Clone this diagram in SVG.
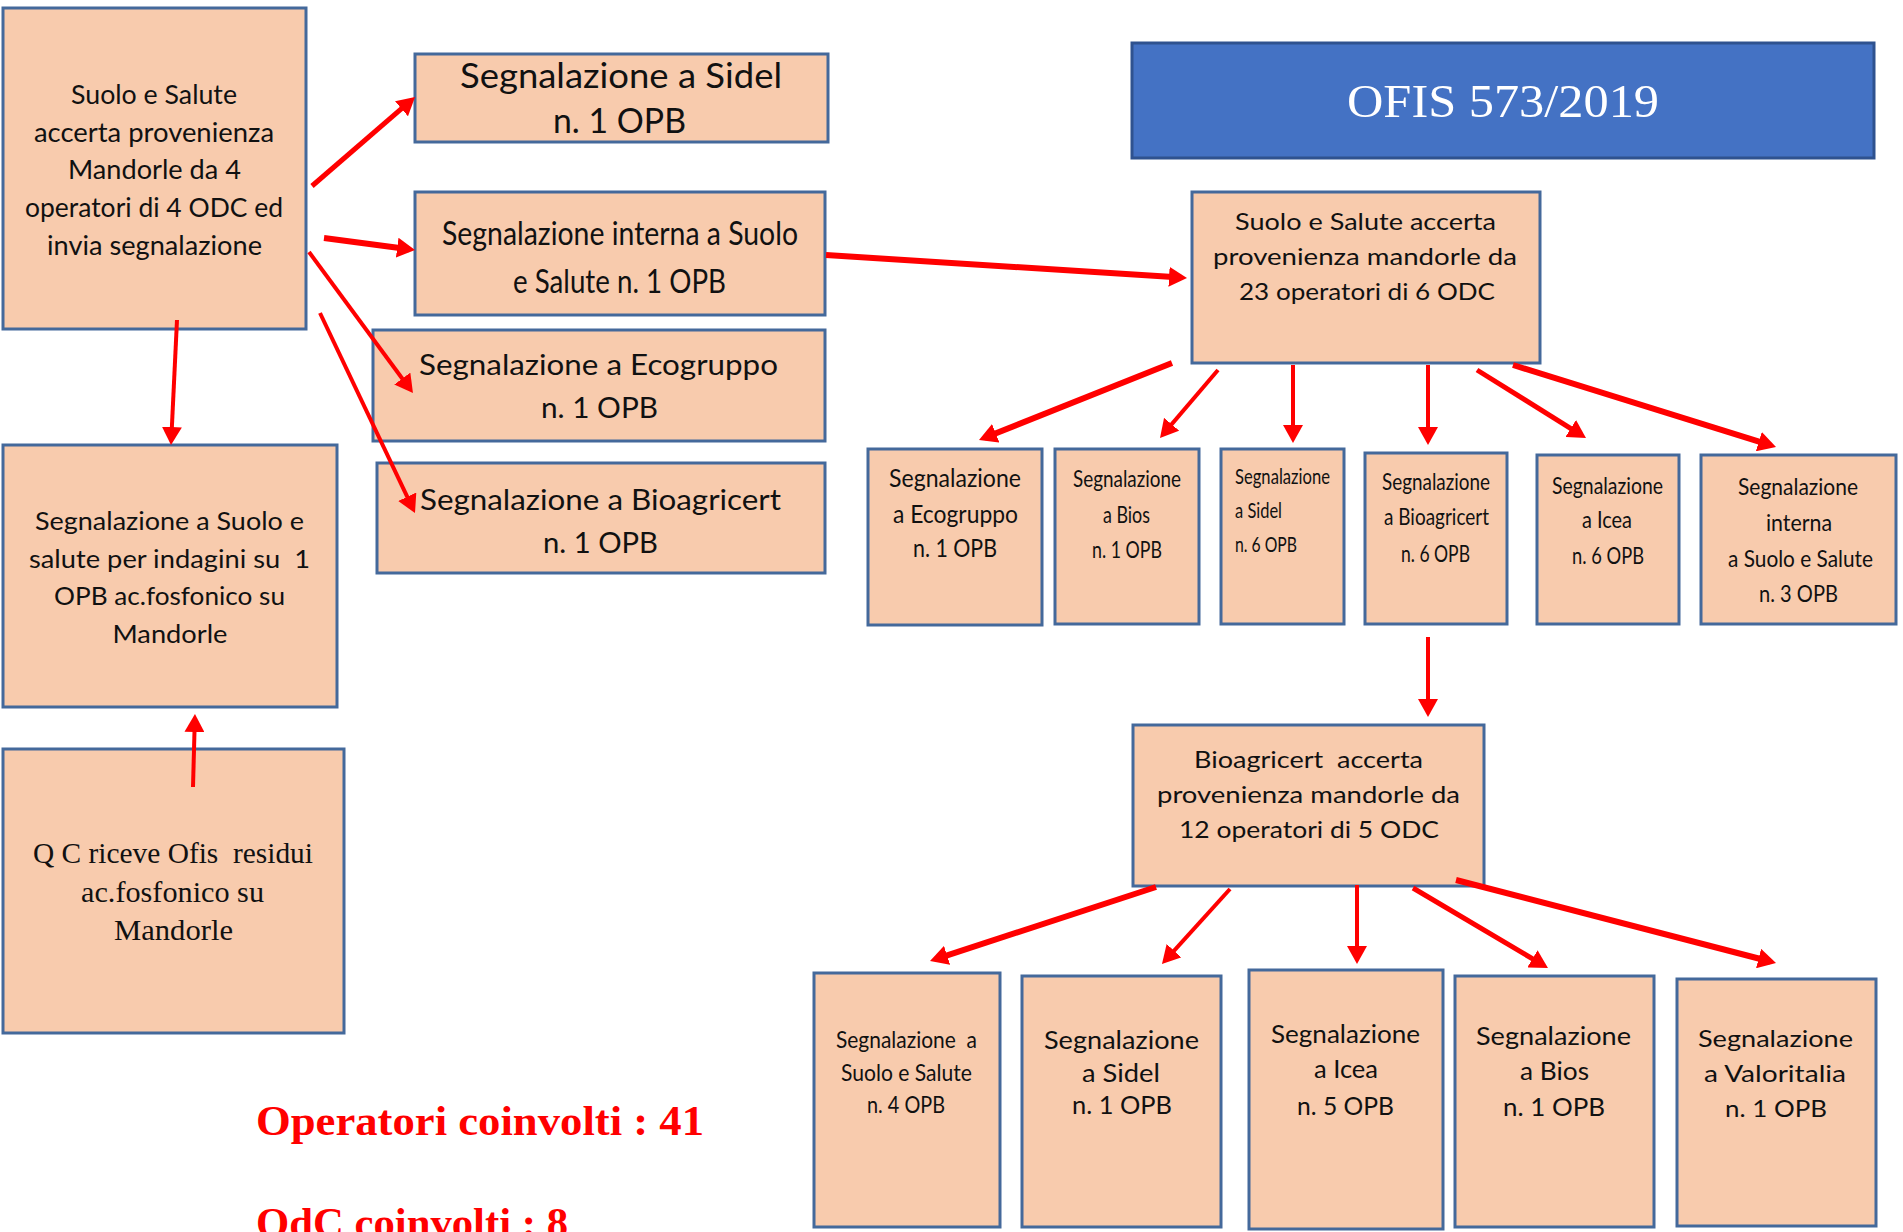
<svg xmlns="http://www.w3.org/2000/svg" width="1903" height="1232" viewBox="0 0 1903 1232">
<style>
.box{fill:#F8CBAD;stroke:#44699B;stroke-width:3}
.t{font-family:Lato,"Liberation Sans",sans-serif;fill:#111;text-anchor:middle}
.ts{font-family:"Liberation Serif",serif;fill:#111;text-anchor:middle}
.red{font-family:"Liberation Serif",serif;font-weight:bold;fill:#FF0000}
.c{fill:none;stroke:#FF0000;stroke-width:5}
.w6{stroke-width:6}
.w4{stroke-width:4}
</style>
<defs>
<marker id="ah" viewBox="0 0 18 20" markerUnits="userSpaceOnUse" markerWidth="18" markerHeight="20" refX="12" refY="10" orient="auto" preserveAspectRatio="none">
<path d="M0,0 L18,10 L0,20 z" fill="#FF0000"/>
</marker>
</defs>
<rect width="1903" height="1232" fill="#fff"/>

<g id="n-start">
<rect class="box" x="3" y="8" width="303" height="321"/>
<text class="t" font-size="26.5"><tspan x="154" y="104" textLength="166" lengthAdjust="spacingAndGlyphs">Suolo e Salute</tspan><tspan x="154" y="142" textLength="240" lengthAdjust="spacingAndGlyphs">accerta provenienza</tspan><tspan x="154.5" y="179" textLength="173" lengthAdjust="spacingAndGlyphs">Mandorle da 4</tspan><tspan x="154" y="217" textLength="258" lengthAdjust="spacingAndGlyphs">operatori di 4 ODC ed</tspan><tspan x="154.5" y="255" textLength="215" lengthAdjust="spacingAndGlyphs">invia segnalazione</tspan></text>
</g>

<g id="n-sidel">
<rect class="box" x="415" y="54" width="413" height="88"/>
<text class="t" font-size="35"><tspan x="621" y="88" textLength="322" lengthAdjust="spacingAndGlyphs">Segnalazione a Sidel</tspan><tspan x="619.5" y="133" textLength="133" lengthAdjust="spacingAndGlyphs">n. 1 OPB</tspan></text>
</g>

<g id="n-interna">
<rect class="box" x="415" y="192" width="410" height="123"/>
<text class="t" font-size="32.5"><tspan x="620" y="245" textLength="356" lengthAdjust="spacingAndGlyphs">Segnalazione interna a Suolo</tspan><tspan x="619.5" y="293" textLength="213" lengthAdjust="spacingAndGlyphs">e Salute n. 1 OPB</tspan></text>
</g>

<g id="n-ecogruppo">
<rect class="box" x="373" y="330" width="452" height="111"/>
<text class="t" font-size="28"><tspan x="598.5" y="375" textLength="359" lengthAdjust="spacingAndGlyphs">Segnalazione a Ecogruppo</tspan><tspan x="599.5" y="418" textLength="117" lengthAdjust="spacingAndGlyphs">n. 1 OPB</tspan></text>
</g>

<g id="n-bioagricert">
<rect class="box" x="377" y="463" width="448" height="110"/>
<text class="t" font-size="28"><tspan x="600.5" y="510" textLength="361" lengthAdjust="spacingAndGlyphs">Segnalazione a Bioagricert</tspan><tspan x="600.5" y="553" textLength="115" lengthAdjust="spacingAndGlyphs">n. 1 OPB</tspan></text>
</g>

<g id="n-indagini">
<rect class="box" x="3" y="445" width="334" height="262"/>
<text class="t" font-size="25" xml:space="preserve"><tspan x="169.5" y="530" textLength="269" lengthAdjust="spacingAndGlyphs">Segnalazione a Suolo e</tspan><tspan x="169.5" y="568" textLength="281" lengthAdjust="spacingAndGlyphs">salute per indagini su  1</tspan><tspan x="169.5" y="605" textLength="231" lengthAdjust="spacingAndGlyphs">OPB ac.fosfonico su</tspan><tspan x="170" y="643" textLength="115" lengthAdjust="spacingAndGlyphs">Mandorle</tspan></text>
</g>

<g id="n-qc">
<rect class="box" x="3" y="749" width="341" height="284"/>
<text class="ts" font-size="29" xml:space="preserve"><tspan x="173" y="863" textLength="280" lengthAdjust="spacingAndGlyphs">Q C riceve Ofis  residui</tspan><tspan x="172.5" y="902" textLength="183" lengthAdjust="spacingAndGlyphs">ac.fosfonico su</tspan><tspan x="173.5" y="940" textLength="119" lengthAdjust="spacingAndGlyphs">Mandorle</tspan></text>
</g>

<g id="n-totals">
<text class="red" font-size="42" x="256" y="1135" textLength="448" lengthAdjust="spacingAndGlyphs">Operatori coinvolti : 41</text>
<text class="red" font-size="42" x="256" y="1237" textLength="312" lengthAdjust="spacingAndGlyphs">OdC coinvolti : 8</text>
</g>

<g id="n-ofis">
<rect x="1132" y="43" width="742" height="115" fill="#4472C4" stroke="#2F528F" stroke-width="3"/>
<text class="ts" font-size="47" fill="#fff" style="fill:#fff" x="1503" y="117" textLength="312" lengthAdjust="spacingAndGlyphs">OFIS 573/2019</text>
</g>

<g id="n-ss23">
<rect class="box" x="1192" y="192" width="348" height="171"/>
<text class="t" font-size="23"><tspan x="1365.5" y="230" textLength="261" lengthAdjust="spacingAndGlyphs">Suolo e Salute accerta</tspan><tspan x="1365" y="265" textLength="304" lengthAdjust="spacingAndGlyphs">provenienza mandorle da</tspan><tspan x="1367" y="300" textLength="256" lengthAdjust="spacingAndGlyphs">23 operatori di 6 ODC</tspan></text>
</g>

<g id="n-r-eco">
<rect class="box" x="868" y="449" width="174" height="176"/>
<text class="t" font-size="24.5"><tspan x="955" y="487" textLength="132" lengthAdjust="spacingAndGlyphs">Segnalazione</tspan><tspan x="955.5" y="523" textLength="125" lengthAdjust="spacingAndGlyphs">a Ecogruppo</tspan><tspan x="955" y="557" textLength="84" lengthAdjust="spacingAndGlyphs">n. 1 OPB</tspan></text>
</g>

<g id="n-r-bios">
<rect class="box" x="1055" y="449" width="144" height="175"/>
<text class="t" font-size="23"><tspan x="1127" y="487" textLength="108" lengthAdjust="spacingAndGlyphs">Segnalazione</tspan><tspan x="1126.5" y="523" textLength="47" lengthAdjust="spacingAndGlyphs">a Bios</tspan><tspan x="1127" y="558" textLength="70" lengthAdjust="spacingAndGlyphs">n. 1 OPB</tspan></text>
</g>

<g id="n-r-sidel">
<rect class="box" x="1221" y="449" width="123" height="175"/>
<text class="t" font-size="22" style="text-anchor:start"><tspan x="1235" y="484" textLength="95" lengthAdjust="spacingAndGlyphs">Segnalazione</tspan><tspan x="1235" y="518" textLength="47" lengthAdjust="spacingAndGlyphs">a Sidel</tspan><tspan x="1235" y="552" textLength="62" lengthAdjust="spacingAndGlyphs">n. 6 OPB</tspan></text>
</g>

<g id="n-r-bioag">
<rect class="box" x="1365" y="453" width="142" height="171"/>
<text class="t" font-size="23"><tspan x="1436" y="490" textLength="108" lengthAdjust="spacingAndGlyphs">Segnalazione</tspan><tspan x="1436.5" y="525" textLength="105" lengthAdjust="spacingAndGlyphs">a Bioagricert</tspan><tspan x="1435.5" y="562" textLength="69" lengthAdjust="spacingAndGlyphs">n. 6 OPB</tspan></text>
</g>

<g id="n-r-icea">
<rect class="box" x="1537" y="455" width="142" height="169"/>
<text class="t" font-size="24"><tspan x="1607.5" y="494" textLength="111" lengthAdjust="spacingAndGlyphs">Segnalazione</tspan><tspan x="1607" y="528" textLength="50" lengthAdjust="spacingAndGlyphs">a Icea</tspan><tspan x="1608" y="564" textLength="72" lengthAdjust="spacingAndGlyphs">n. 6 OPB</tspan></text>
</g>

<g id="n-r-interna">
<rect class="box" x="1701" y="455" width="195" height="169"/>
<text class="t" font-size="23"><tspan x="1798" y="495" textLength="120" lengthAdjust="spacingAndGlyphs">Segnalazione</tspan><tspan x="1799" y="531" textLength="66" lengthAdjust="spacingAndGlyphs">interna</tspan><tspan x="1800.5" y="567" textLength="145" lengthAdjust="spacingAndGlyphs">a Suolo e Salute</tspan><tspan x="1798.5" y="602" textLength="79" lengthAdjust="spacingAndGlyphs">n. 3 OPB</tspan></text>
</g>

<g id="n-ba12">
<rect class="box" x="1133" y="725" width="351" height="161"/>
<text class="t" font-size="23" xml:space="preserve"><tspan x="1308.5" y="768" textLength="229" lengthAdjust="spacingAndGlyphs">Bioagricert  accerta</tspan><tspan x="1308.5" y="803" textLength="303" lengthAdjust="spacingAndGlyphs">provenienza mandorle da</tspan><tspan x="1309" y="838" textLength="260" lengthAdjust="spacingAndGlyphs">12 operatori di 5 ODC</tspan></text>
</g>

<g id="n-b-ss">
<rect class="box" x="814" y="973" width="186" height="254"/>
<text class="t" font-size="23" xml:space="preserve"><tspan x="906.5" y="1048" textLength="141" lengthAdjust="spacingAndGlyphs">Segnalazione  a</tspan><tspan x="906.5" y="1081" textLength="131" lengthAdjust="spacingAndGlyphs">Suolo e Salute</tspan><tspan x="906" y="1113" textLength="78" lengthAdjust="spacingAndGlyphs">n. 4 OPB</tspan></text>
</g>

<g id="n-b-sidel">
<rect class="box" x="1022" y="976" width="199" height="251"/>
<text class="t" font-size="24.5"><tspan x="1121.5" y="1049" textLength="155" lengthAdjust="spacingAndGlyphs">Segnalazione</tspan><tspan x="1121" y="1082" textLength="78" lengthAdjust="spacingAndGlyphs">a Sidel</tspan><tspan x="1122" y="1114" textLength="100" lengthAdjust="spacingAndGlyphs">n. 1 OPB</tspan></text>
</g>

<g id="n-b-icea">
<rect class="box" x="1249" y="970" width="194" height="259"/>
<text class="t" font-size="25.5"><tspan x="1345.5" y="1043" textLength="149" lengthAdjust="spacingAndGlyphs">Segnalazione</tspan><tspan x="1346" y="1078" textLength="64" lengthAdjust="spacingAndGlyphs">a Icea</tspan><tspan x="1345.5" y="1115" textLength="97" lengthAdjust="spacingAndGlyphs">n. 5 OPB</tspan></text>
</g>

<g id="n-b-bios">
<rect class="box" x="1455" y="976" width="199" height="251"/>
<text class="t" font-size="24.5"><tspan x="1553.5" y="1045" textLength="155" lengthAdjust="spacingAndGlyphs">Segnalazione</tspan><tspan x="1554.5" y="1080" textLength="69" lengthAdjust="spacingAndGlyphs">a Bios</tspan><tspan x="1554" y="1116" textLength="102" lengthAdjust="spacingAndGlyphs">n. 1 OPB</tspan></text>
</g>

<g id="n-b-valor">
<rect class="box" x="1677" y="979" width="199" height="247"/>
<text class="t" font-size="24"><tspan x="1775.5" y="1047" textLength="155" lengthAdjust="spacingAndGlyphs">Segnalazione</tspan><tspan x="1775" y="1082" textLength="142" lengthAdjust="spacingAndGlyphs">a Valoritalia</tspan><tspan x="1776" y="1117" textLength="102" lengthAdjust="spacingAndGlyphs">n. 1 OPB</tspan></text>
</g>

<g id="connectors" marker-end="url(#ah)">
<line class="c" x1="312" y1="186" x2="410.5" y2="100.9" marker-end="url(#ah)"/>
<line class="c w6" x1="324" y1="238" x2="409.1" y2="249.2" marker-end="url(#ah)"/>
<line class="c w4" x1="309" y1="252" x2="409.4" y2="388.2" marker-end="url(#ah)"/>
<line class="c w4" x1="320" y1="313" x2="412.4" y2="507.6" marker-end="url(#ah)"/>
<line class="c w4" x1="177" y1="320" x2="171.3" y2="439" marker-end="url(#ah)"/>
<line class="c w4" x1="193" y1="787" x2="194.8" y2="720" marker-end="url(#ah)"/>
<line class="c w6" x1="826" y1="255" x2="1181" y2="277.6" marker-end="url(#ah)"/>
<line class="c w6" x1="1172" y1="363" x2="984.6" y2="437.8" marker-end="url(#ah)"/>
<line class="c w4" x1="1218" y1="370" x2="1163.9" y2="433.4" marker-end="url(#ah)"/>
<line class="c w4" x1="1293" y1="365" x2="1293" y2="437" marker-end="url(#ah)"/>
<line class="c w4" x1="1428" y1="365" x2="1428" y2="439" marker-end="url(#ah)"/>
<line class="c" x1="1477" y1="370" x2="1580.9" y2="434.8" marker-end="url(#ah)"/>
<line class="c w6" x1="1513" y1="365" x2="1770.3" y2="445.2" marker-end="url(#ah)"/>
<line class="c w4" x1="1428" y1="637" x2="1428" y2="711" marker-end="url(#ah)"/>
<line class="c w6" x1="1156" y1="887" x2="935.7" y2="959.1" marker-end="url(#ah)"/>
<line class="c w4" x1="1230" y1="889" x2="1166" y2="959.6" marker-end="url(#ah)"/>
<line class="c w4" x1="1357" y1="885" x2="1357" y2="958" marker-end="url(#ah)"/>
<line class="c" x1="1413" y1="888" x2="1542.8" y2="964.9" marker-end="url(#ah)"/>
<line class="c w6" x1="1456" y1="880" x2="1770.2" y2="961.5" marker-end="url(#ah)"/>
</g>
</svg>
